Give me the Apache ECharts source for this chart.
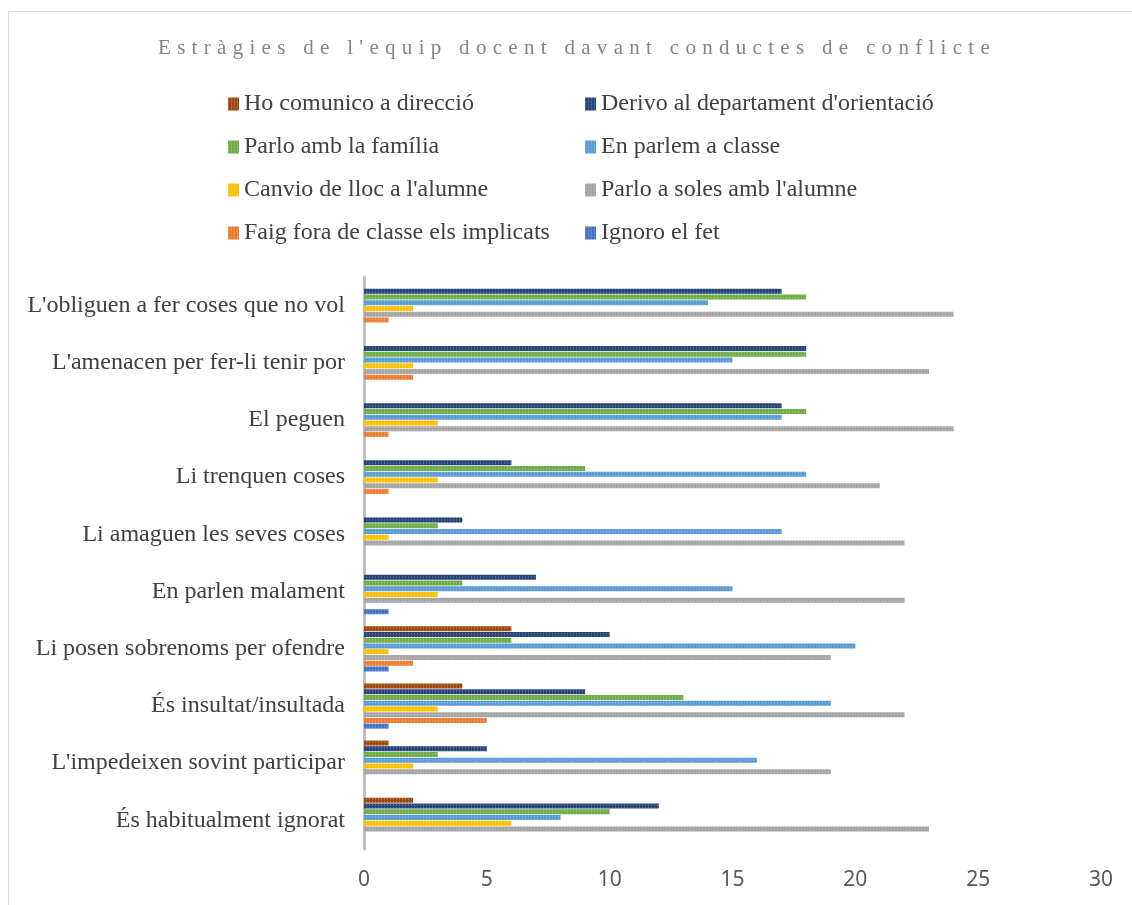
<!DOCTYPE html>
<html>
<head>
<meta charset="utf-8">
<title>Estràgies de l'equip docent</title>
<script src="https://cdn.jsdelivr.net/npm/echarts@6/dist/echarts.min.js"></script>
<style>
  html, body { margin: 0; padding: 0; background: #fff; }
  #wrap { position: relative; width: 1132px; height: 905px; }
  #main { position: absolute; left: 0; top: 0; width: 1132px; height: 905px; }
  #title {
    position: absolute; left: 158px; top: 36px;
    font-family: "Liberation Serif", serif; font-size: 21px; line-height: 23px;
    letter-spacing: 6.3px; color: #858585; white-space: nowrap;
  }
</style>
</head>
<body>
<div id="wrap">
  <div id="main"></div>
  <div id="title">Estràgies de l'equip docent davant conductes de conflicte</div>
</div>
<script>
// categories, bottom to top (first category sits at the bottom of the axis)
var categories = [
    "És habitualment ignorat",
    "L'impedeixen sovint participar",
    "És insultat/insultada",
    "Li posen sobrenoms per ofendre",
    "En parlen malament",
    "Li amaguen les seves coses",
    "Li trenquen coses",
    "El peguen",
    "L'amenacen per fer-li tenir por",
    "L'obliguen a fer coses que no vol"
];

var seriesNames = [
    "Ho comunico a direcció",
    "Derivo al departament d'orientació",
    "Parlo amb la família",
    "En parlem a classe",
    "Canvio de lloc a l'alumne",
    "Parlo a soles amb l'alumne",
    "Faig fora de classe els implicats",
    "Ignoro el fet"
];

var direccio   = [2, 1, 4, 6, 0, 0, 0, 0, 0, 0];
var orientacio = [12, 5, 9, 10, 7, 4, 6, 17, 18, 17];
var familia    = [10, 3, 13, 6, 4, 3, 9, 18, 18, 18];
var classe     = [8, 16, 19, 20, 15, 17, 18, 17, 15, 14];
var canvioLloc = [6, 2, 3, 1, 3, 1, 3, 3, 2, 2];
var aSoles     = [23, 19, 22, 19, 22, 22, 21, 24, 23, 24];
var faigFora   = [0, 0, 5, 2, 0, 0, 1, 1, 2, 1];
var ignoro     = [0, 0, 1, 1, 1, 0, 0, 0, 0, 0];

var xTicks = [0, 5, 10, 15, 20, 25, 30];

var colors = ["#9e480e", "#264478", "#70ad47", "#5b9bd5", "#ffc000", "#a5a5a5", "#ed7d31", "#4472c4"];
var values = [direccio, orientacio, familia, classe, canvioLloc, aSoles, faigFora, ignoro];

var chart = echarts.init(document.getElementById("main"));

var serif = "'Liberation Serif', 'Times New Roman', serif";

// excel-ish striped pattern fill
var stripes = {
    symbol: "rect",
    symbolSize: 1,
    color: "rgba(255,255,255,0.22)",
    dashArrayX: [1, 2],
    dashArrayY: [2, 1],
    rotation: 0
};

var series = [];
for (var i = 0; i < seriesNames.length; i++) {
    series.push({
        name: seriesNames[i],
        type: "bar",
        barWidth: 5,
        barGap: "15%",
        itemStyle: { color: colors[i], decal: stripes },
        emphasis: { disabled: true },
        data: values[i]
    });
}

var legendText = { fontFamily: serif, fontSize: 24, color: "#404040" };

var option = {
    animation: false,
    color: colors,
    graphic: [{
        type: "rect",
        shape: { x: 8.5, y: 11.5, width: 1140, height: 900 },
        style: { fill: "none", stroke: "#d9d9d9", lineWidth: 1 },
        silent: true
    }],
    legend: [{
        orient: "vertical",
        left: 228,
        top: 92,
        padding: 0,
        icon: "rect",
        itemWidth: 11,
        itemHeight: 13,
        itemGap: 19,
        textStyle: legendText,
        data: [seriesNames[0], seriesNames[2], seriesNames[4], seriesNames[6]]
    }, {
        orient: "vertical",
        left: 585,
        top: 92,
        padding: 0,
        icon: "rect",
        itemWidth: 11,
        itemHeight: 13,
        itemGap: 19,
        textStyle: legendText,
        data: [seriesNames[1], seriesNames[3], seriesNames[5], seriesNames[7]]
    }],
    grid: { left: 364, right: 31, top: 277, bottom: 56, containLabel: false },
    xAxis: {
        type: "value",
        min: xTicks[0],
        max: xTicks[xTicks.length - 1],
        interval: xTicks[1] - xTicks[0],
        axisLine: { show: false },
        axisTick: { show: false },
        splitLine: { show: false },
        axisLabel: {
            margin: 21,
            fontFamily: "'Noto Sans', sans-serif",
            fontSize: 21,
            color: "#595959"
        }
    },
    yAxis: {
        type: "category",
        data: categories,
        axisTick: { show: false },
        axisLine: { lineStyle: { color: "#bfbfbf", width: 3 } },
        axisLabel: {
            margin: 19,
            fontFamily: serif,
            fontSize: 24,
            color: "#404040"
        }
    },
    series: series
};

chart.setOption(option);
</script>
</body>
</html>
